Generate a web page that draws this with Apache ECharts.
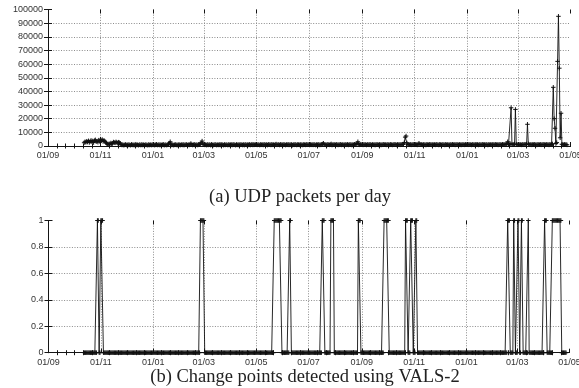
<!DOCTYPE html>
<html>
<head>
<meta charset="utf-8">
<script src="https://cdn.jsdelivr.net/npm/echarts@6/dist/echarts.min.js"></script>
<style>
  html, body { margin: 0; padding: 0; background: #fff; }
  #chart { width: 579px; height: 388px; }
</style>
</head>
<body>
<div id="chart"></div>
<script>
// Two-monthly major ticks shared by both panels
const majorTickDates = ['2005-09-01', '2005-11-01', '2006-01-01', '2006-03-01', '2006-05-01', '2006-07-01',
                        '2006-09-01', '2006-11-01', '2007-01-01', '2007-03-01', '2007-05-01'];
const majorTickLabels = ['01/09', '01/11', '01/01', '01/03', '01/05', '01/07',
                         '01/09', '01/11', '01/01', '01/03', '01/05'];

// UDP packets per day; each row starts on the given date
const udpPackets = [
  ['2005-10-13', [2400, 3100, 2700, 3500, 2900, 3800, 2600, 3300, 4100, 3000, 3700, 2500, 3900, 4500, 3200, 3600, 2800, 4300, 3400]],
  ['2005-11-01', [5000, 3800, 4700, 3300, 4200, 3500, 2700, 2000, 1400, 1100, 1700, 1300, 2200, 1500, 1900, 2900, 2500, 2300, 3000, 2600,
                  2100, 2800, 2400, 2000, 900, 700, 1000, 600, 800, 1100]],
  ['2005-12-01', [800, 650, 1100, 720, 900, 560, 1200, 840, 700, 980, 610, 1300, 760, 890, 540, 1050, 820, 690, 1150, 740,
                  930, 600, 1000, 780, 860, 520, 1120, 710, 950, 640, 1080]],
  ['2006-01-01', [770, 1020, 580, 910, 1250, 690, 840, 1100, 620, 970, 750, 880, 1180, 560, 1040, 800, 670, 950, 1300, 2100,
                  3100, 1400, 720, 990, 610, 860, 1070, 740, 920, 580, 1150]],
  ['2006-02-01', [830, 690, 1010, 760, 1220, 600, 940, 870, 1120, 650, 980, 740, 1300, 1800, 1060, 710, 890, 1170, 630, 1020,
                  850, 700, 1240, 960, 1500, 2300, 3600, 1400]],
  ['2006-03-01', [1100, 820, 970, 640, 1180, 750, 900, 1060, 580, 1230, 810, 690, 1000, 870, 1150, 620, 940, 780, 1090, 700,
                  1280, 830, 960, 590, 1120, 760, 1010, 880, 650, 1170, 800]],
  ['2006-04-01', [920, 1060, 710, 1240, 830, 970, 600, 1130, 790, 1020, 680, 1190, 860, 950, 740, 1080, 630, 1210, 900, 770,
                  1040, 820, 1160, 690, 990, 1300, 750, 1110, 850, 970]],
  ['2006-05-01', [1200, 780, 1050, 920, 660, 1140, 870, 1010, 730, 1270, 940, 810, 1090, 680, 1180, 900, 1020, 760, 1230, 850,
                  990, 700, 1120, 1400, 830, 960, 1070, 720, 1190, 880, 1030]],
  ['2006-06-01', [790, 1150, 940, 680, 1080, 860, 1220, 750, 1000, 910, 1130, 640, 1040, 820, 1260, 930, 710, 1090, 980, 770,
                  1170, 850, 1010, 690, 1120, 950, 800, 1240, 880, 1060]],
  ['2006-07-01', [930, 720, 1110, 860, 1020, 780, 1200, 950, 680, 1070, 890, 1160, 740, 1030, 820, 1250, 1400, 2000, 1100, 870,
                  1010, 760, 1180, 940, 830, 1090, 1500, 700, 1140, 900, 1050]],
  ['2006-08-01', [820, 1170, 960, 740, 1100, 880, 1230, 790, 1040, 920, 690, 1150, 1000, 850, 1210, 770, 1080, 940, 1130, 710,
                  1020, 890, 1260, 980, 1300, 1900, 3100, 1500, 860, 1090, 950]],
  ['2006-09-01', [1040, 780, 1190, 900, 1080, 720, 1150, 960, 830, 1240, 1010, 760, 1120, 880, 1050, 700, 1200, 940, 1070, 810,
                  1160, 990, 740, 1100, 870, 1230, 950, 1040, 790, 1140]],
  ['2006-10-01', [920, 1060, 830, 1180, 970, 750, 1110, 890, 1250, 1000, 780, 1140, 930, 1070, 860, 1200, 990, 1120, 1400, 2600,
                  6500, 7300, 2200, 1300, 1050, 900, 1170, 830, 1090, 960, 1210]],
  ['2006-11-01', [870, 1130, 990, 760, 1400, 2000, 1250, 940, 1080, 810, 1190, 920, 1050, 730, 1160, 1010, 880, 1230, 970, 1100,
                  790, 1140, 900, 1060, 820, 1270, 950, 1030, 740, 1180]],
  ['2006-12-01', [1000, 850, 1120, 930, 1060, 770, 1210, 890, 1040, 960, 720, 1150, 1000, 870, 1240, 910, 1080, 800, 1190, 950,
                  1070, 840, 1130, 990, 760, 1220, 900, 1050, 830, 1160, 970]],
  ['2007-01-01', [1090, 860, 1200, 940, 1030, 780, 1170, 920, 1060, 810, 1250, 990, 1110, 750, 1140, 900, 1020, 870, 1230, 960,
                  1080, 820, 1180, 1000, 730, 1130, 910, 1050, 840, 1210, 980]],
  ['2007-02-01', [1070, 880, 1190, 950, 1040, 790, 1160, 930, 1080, 850, 1220, 1000, 1110, 900, 1300, 1600, 3100, 1400, 1000, 1700,
                  28000, 1200, 900, 1100, 1500, 26800, 1300, 1000]],
  ['2007-03-01', [880, 1150, 960, 1040, 820, 1190, 930, 1080, 1200, 1100, 1400, 15900, 1600, 1050, 900, 1170, 840, 1100, 970, 1230,
                  880, 1060, 790, 1140, 1010, 920, 1200, 850, 1090, 960, 1180]],
  ['2007-04-01', [1020, 870, 1150, 940, 1060, 800, 1210, 950, 1100, 1500, 43000, 20000, 13000, 1800, 2500, 62000, 95000, 57000, 6000, 24000,
                  1300, 1000, 880, 1150, 930, 1060, 820]]
];

// Days flagged as change points by VALS-2 (inclusive ranges)
const changeSpans = [
  ['2005-10-28', '2005-10-29'], ['2005-11-01', '2005-11-03'], ['2006-02-25', '2006-03-01'],
  ['2006-05-22', '2006-05-30'], ['2006-06-09', '2006-06-10'], ['2006-07-17', '2006-07-19'],
  ['2006-07-27', '2006-07-30'], ['2006-08-28', '2006-08-30'], ['2006-09-27', '2006-10-02'],
  ['2006-10-22', '2006-10-24'], ['2006-10-28', '2006-10-30'], ['2006-11-03', '2006-11-04'],
  ['2007-02-18', '2007-02-20'], ['2007-02-25', '2007-02-26'], ['2007-03-02', '2007-03-03'],
  ['2007-03-06', '2007-03-07'], ['2007-03-14', '2007-03-14'], ['2007-04-02', '2007-04-04'],
  ['2007-04-11', '2007-04-21']
];
const detectionFirstDay = '2005-10-13';
const detectionLastDay = '2007-04-27';

// ---- day arithmetic (x is days since the first major tick) ----
const t0 = Date.parse(majorTickDates[0] + 'T00:00:00Z');
const dayOf = s => Math.round((Date.parse(s + 'T00:00:00Z') - t0) / 864e5);
const majorDays = majorTickDates.map(dayOf);
const axisEnd = majorDays[majorDays.length - 1];
const minorDays = [];
for (let i = 0; i < majorDays.length - 1; i++) {
  const a = majorDays[i], b = majorDays[i + 1];
  for (let k = 1; k < 6; k++) minorDays.push(a + (b - a) * k / 6);
}

const udpData = [];
udpPackets.forEach(([from, vals]) => {
  const d0 = dayOf(from);
  vals.forEach((v, i) => udpData.push([d0 + i, v]));
});

const spanDays = changeSpans.map(([a, b]) => [dayOf(a), dayOf(b)]);
const flagData = [];
for (let d = dayOf(detectionFirstDay); d <= dayOf(detectionLastDay); d++) {
  const on = spanDays.some(([a, b]) => d >= a && d <= b);
  flagData.push([d, on ? 1 : 0]);
}

// ---- styling ----
const frameColor = '#151515';
const dotted = { color: '#8c8c8c', width: 1, type: [1, 1.6] };
const tickText = { fontFamily: '"Liberation Sans", Arial, sans-serif', fontSize: 9, color: '#333' };
const plusMark = 'path://M0,5L10,5M5,0L5,10';

const panels = [
  { rect: { left: 48, right: 8.5, top: 9.5, height: 136.5 },
    yMin: 0, yMax: 100000, yStep: 10000, fmt: v => String(Math.round(v)), data: udpData },
  { rect: { left: 48.5, right: 9.5, top: 220.5, height: 132.2 },
    yMin: 0, yMax: 1, yStep: 0.2, fmt: v => String(Math.round(v * 10) / 10), data: flagData }
];

const grid = [], xAxis = [], yAxis = [], series = [];
panels.forEach(p => {
  // layer with the dotted grid and major ticks
  const gLines = grid.length;
  grid.push(Object.assign({ containLabel: false, outerBoundsMode: 'none' }, p.rect));
  xAxis.push({
    gridIndex: gLines, type: 'value', position: 'bottom', min: 0, max: axisEnd,
    axisLine: { show: false }, axisLabel: { show: false },
    axisTick: { show: true, inside: true, length: 4, customValues: majorDays, lineStyle: { color: frameColor, width: 1 } },
    splitLine: { show: true, showMinLine: false, showMaxLine: false, lineStyle: dotted }
  });
  xAxis.push({
    gridIndex: gLines, type: 'value', position: 'top', min: 0, max: axisEnd,
    axisLine: { show: false }, axisLabel: { show: false },
    axisTick: { show: true, inside: true, length: 4, customValues: majorDays, lineStyle: { color: frameColor, width: 1 } },
    splitLine: { show: false }
  });
  yAxis.push({ gridIndex: gLines, type: 'value', min: p.yMin, max: p.yMax, show: false });

  // frame layer with labels, minor ticks and the data
  const gFrame = grid.length;
  grid.push(Object.assign({ containLabel: false, outerBoundsMode: 'none' }, p.rect));
  const xi = xAxis.length;
  xAxis.push({
    gridIndex: gFrame, type: 'value', position: 'bottom', min: 0, max: axisEnd,
    axisLine: { show: true, lineStyle: { color: frameColor, width: 1 } },
    axisTick: { show: true, inside: true, length: 2.5, customValues: minorDays, lineStyle: { color: frameColor, width: 1 } },
    axisLabel: Object.assign({ customValues: majorDays, margin: 5,
      formatter: v => majorTickLabels[majorDays.indexOf(Math.round(v))] || '' }, tickText),
    splitLine: { show: false }
  });
  xAxis.push({
    gridIndex: gFrame, type: 'value', position: 'top', min: 0, max: axisEnd,
    axisLine: { show: true, lineStyle: { color: frameColor, width: 1 } },
    axisTick: { show: true, inside: true, length: 2.5, customValues: minorDays, lineStyle: { color: frameColor, width: 1 } },
    axisLabel: { show: false }, splitLine: { show: false }
  });
  const yi = yAxis.length;
  yAxis.push({
    gridIndex: gFrame, type: 'value', position: 'left', min: p.yMin, max: p.yMax, interval: p.yStep,
    axisLine: { show: true, lineStyle: { color: frameColor, width: 1 } },
    axisTick: { show: true, inside: true, length: 4, lineStyle: { color: frameColor, width: 1 } },
    axisLabel: Object.assign({ margin: 5, formatter: p.fmt }, tickText),
    splitLine: { show: true, showMinLine: false, showMaxLine: false, lineStyle: dotted }
  });
  yAxis.push({
    gridIndex: gFrame, type: 'value', position: 'right', min: p.yMin, max: p.yMax, interval: p.yStep,
    axisLine: { show: true, lineStyle: { color: frameColor, width: 1 } },
    axisTick: { show: true, inside: true, length: 4, lineStyle: { color: frameColor, width: 1 } },
    axisLabel: { show: false }, splitLine: { show: false }
  });
  series.push({
    type: 'line', xAxisIndex: xi, yAxisIndex: yi, data: p.data,
    symbol: plusMark, symbolSize: 4.5, showSymbol: true, showAllSymbol: true,
    itemStyle: { color: '#111', borderColor: '#111', borderWidth: 1 },
    lineStyle: { color: '#111', width: 0.9 },
    emphasis: { disabled: true }, silent: true, animation: false, z: 3
  });
});

const captionFont = '"Liberation Serif", "Times New Roman", serif';
const chart = echarts.init(document.getElementById('chart'), null, { renderer: 'canvas' });
chart.setOption({
  animation: false,
  grid, xAxis, yAxis, series,
  graphic: [
    { type: 'text', x: 300, y: 197, silent: true,
      style: { text: '(a) UDP packets per day', fontFamily: captionFont, fontSize: 18.5, fill: '#222', align: 'center', verticalAlign: 'middle' } },
    { type: 'text', x: 305, y: 377, silent: true,
      style: { text: '(b) Change points detected using VALS-2', fontFamily: captionFont, fontSize: 18.5, fill: '#222', align: 'center', verticalAlign: 'middle' } }
  ]
});
</script>
</body>
</html>
